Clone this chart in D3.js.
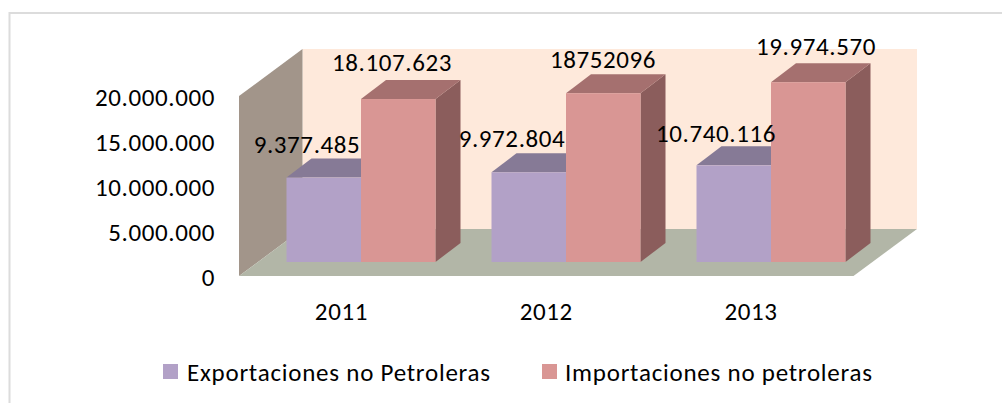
<!DOCTYPE html>
<html><head><meta charset="utf-8">
<script src="https://cdn.jsdelivr.net/npm/d3@7"></script>
<style>html,body{margin:0;padding:0;background:#fff}svg{display:block}text{font-family:Carlito,Lato,"Open Sans",sans-serif;fill:#000;letter-spacing:.6px}text.lg{letter-spacing:.76px}</style>
</head><body><svg id="c" width="1002" height="403"></svg>
<script>
const years = ["2011","2012","2013"];
const exportaciones = [9377485, 9972804, 10740116];
const importaciones = [18107623, 18752096, 19974570];
const exportLabels = ["9.377.485","9.972.804","10.740.116"];
const importLabels = ["18.107.623","18752096","19.974.570"];
const yTicks = [0,5000000,10000000,15000000,20000000];
const seriesNames = ["Exportaciones no Petroleras","Importaciones no petroleras"];

const svg = d3.select("#c");
const fs = 25;
const dx = 63.5, dy = -47;        // full depth of the box
const bdx = 25, bdy = -19;        // depth of a bar
const y = d3.scaleLinear().domain([0,20000000]).range([276,96]);
const yBar = d3.scaleLinear().domain([0,20000000]).range([262,82]);
const x0 = d3.scaleBand().domain(years).range([258.5,873.5]);   // bars, set back inside the box
const xAxisScale = d3.scaleBand().domain(years).range([239,853.5]); // front edge of the floor
const barW = 74.5;
const poly = (pts,fill)=>svg.append("polygon").attr("points",pts.map(p=>p.join(",")).join(" ")).attr("fill",fill);

// frame: top and left edges only, as in the cropped reference
svg.append("path").attr("d","M9.5,403V13H1002").attr("fill","none").attr("stroke","#dcdcdc").attr("stroke-width",2);

// walls
const L=239,R=853.5,B=y(0),T=y(20000000);
poly([[L+dx,T+dy],[R+dx,T+dy],[R+dx,B+dy],[L+dx,B+dy]],"#fee9db");
poly([[L,T],[L+dx,T+dy],[L+dx,B+dy],[L,B]],"#a2958a");
poly([[L,B],[L+dx,B+dy],[R+dx,B+dy],[R,B]],"#b2b6a7");

function bar(xl,v,col){
  const top=yBar(v),bot=yBar(0),xr=xl+barW;
  poly([[xr,top],[xr+bdx,top+bdy],[xr+bdx,bot+bdy],[xr,bot]],col[2]);
  poly([[xl,top],[xl+bdx,top+bdy],[xr+bdx,top+bdy],[xr,top]],col[1]);
  svg.append("rect").attr("x",xl).attr("y",top).attr("width",barW).attr("height",bot-top).attr("fill",col[0]);
}
const cE=["#b2a1c7","#867a96","#867a96"], cI=["#d99694","#a5706f","#8b5d5c"];
years.forEach((yr,i)=>{
  const c=x0(yr)+x0.bandwidth()/2;
  bar(c-barW,exportaciones[i],cE);
  bar(c,importaciones[i],cI);
});

// value labels
const exportLabelX=[307,512,716], importLabelX=[392,603,816];
const exportLabelY=[144,138,133], importLabelY=[62,59,46];
years.forEach((yr,i)=>{
  svg.append("text").attr("x",exportLabelX[i]).attr("y",exportLabelY[i]+9).attr("text-anchor","middle").attr("font-size",fs).text(exportLabels[i]);
  svg.append("text").attr("x",importLabelX[i]).attr("y",importLabelY[i]+9).attr("text-anchor","middle").attr("font-size",fs).text(importLabels[i]);
});

// axes text
const tickFmt=d=>d3.format(",")(d).replace(/,/g,".");
const ya=svg.append("g").attr("transform","translate(217,0)").call(d3.axisLeft(y).tickValues(yTicks).tickFormat(tickFmt).tickSize(0).tickPadding(2));
ya.select(".domain").remove();
ya.selectAll("text").attr("font-size",fs).attr("font-family",null).attr("dy","0.36em").style("fill","#000");
const xa=svg.append("g").attr("transform","translate(0,302)").call(d3.axisBottom(xAxisScale).tickSize(0).tickPadding(0));
xa.select(".domain").remove();
xa.selectAll("text").attr("font-size",fs).attr("font-family",null).attr("dy","0.71em").style("fill","#000");

// legend
const lg=[[163,187,cE[0]],[542,565,cI[0]]];
seriesNames.forEach((n,i)=>{
  svg.append("rect").attr("x",lg[i][0]).attr("y",364).attr("width",15).attr("height",15).attr("fill",lg[i][2]);
  svg.append("text").attr("class","lg").attr("x",lg[i][1]).attr("y",381).attr("font-size",fs).text(n);
});
</script></body></html>
